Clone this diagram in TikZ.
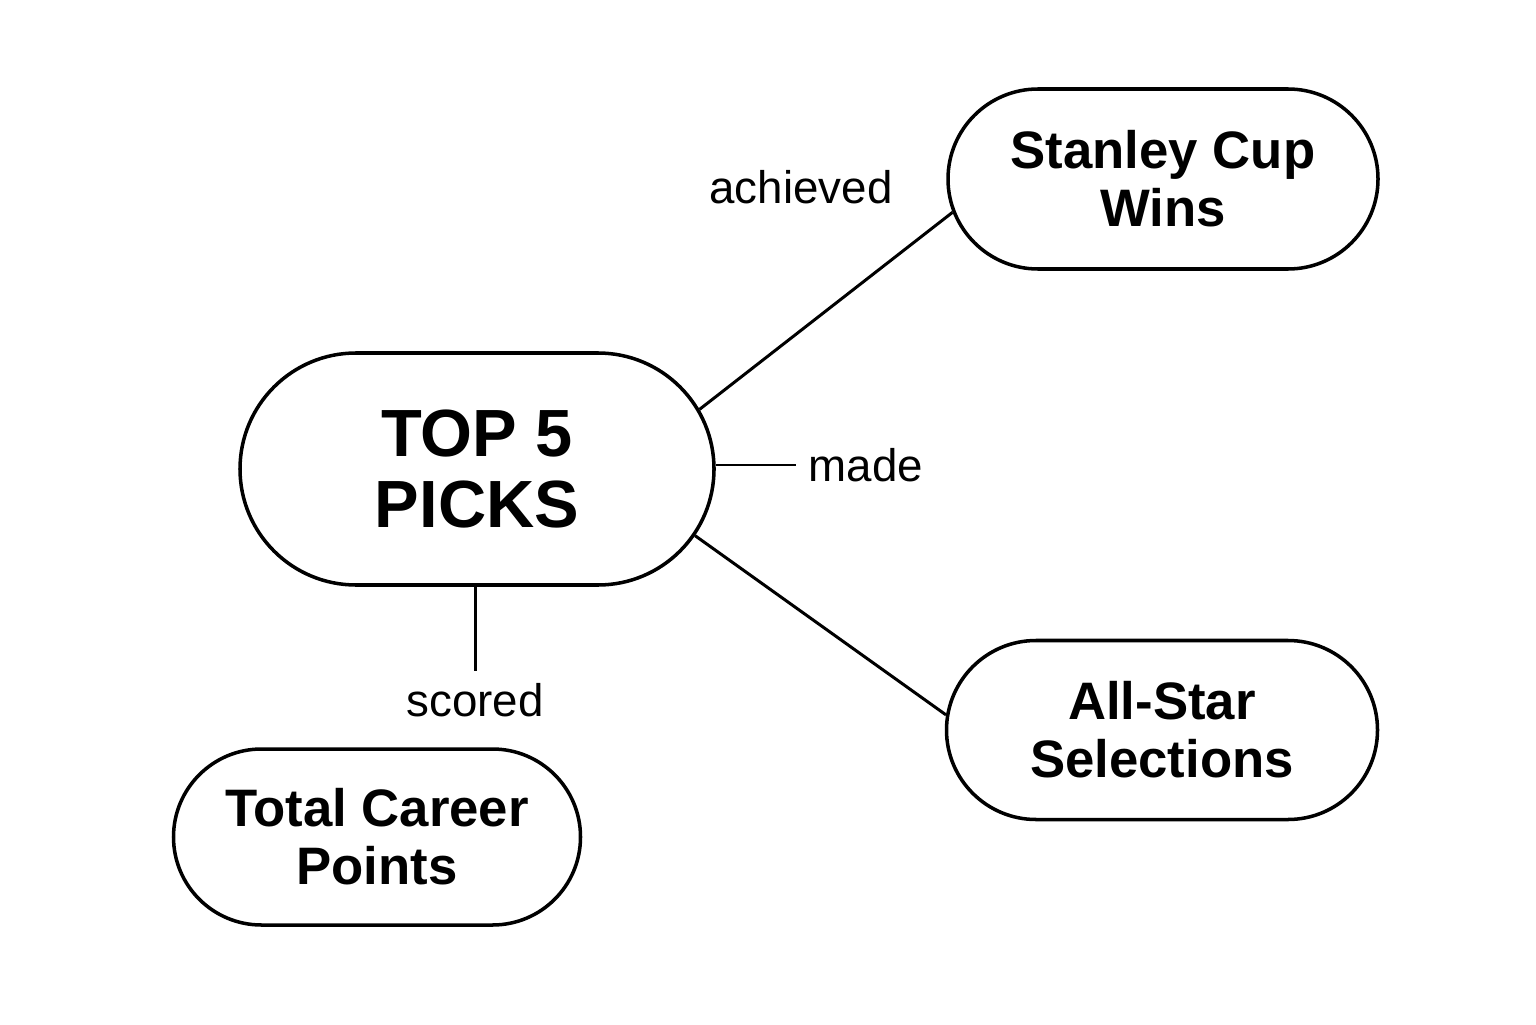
\documentclass[tikz,border=0pt]{standalone}
\usepackage{fontspec}
\setmainfont{Liberation Sans}
\usepackage{tikz}
\usetikzlibrary{positioning, shapes.misc}

\begin{document}
\begin{tikzpicture}[
  every node/.style={align=center},
  pill/.style={draw, rounded rectangle, line width=1pt, inner sep=0pt,
               font=\bfseries\fontsize{15}{16.5}\selectfont},
  link/.style={line width=0.85pt},
  tag/.style={font=\fontsize{13}{15}\selectfont}
]
  \useasboundingbox (0,0) rectangle (15.36,10.24);

  \node (top) [pill, minimum width=4.74cm, minimum height=2.32cm,
       font=\bfseries\fontsize{19}{20}\selectfont] at (4.77,5.55) {TOP 5\\PICKS};
  \node (stanley) [pill, minimum width=4.30cm, minimum height=1.80cm]
       at (11.63,8.45) {Stanley Cup\\Wins};
  \node (allstar) [pill, minimum width=4.31cm, minimum height=1.79cm]
       at (11.62,2.94) {All-Star\\Selections};
  \node (career) [pill, minimum width=4.07cm, minimum height=1.76cm]
       at (3.77,1.87) {Total Career\\Points};

  \node (achieved) [tag] at (8.01,8.37) {achieved};
  \node (made) [tag] at (8.66,5.59) {made};
  \node (scored) [tag] at (4.75,3.24) {scored};

  \draw[link] (top.15) -- (stanley.189);
  \draw[link] (top.east |- made.west) -- (made.west);
  \draw[link] (top.-17) -- (allstar.176);
  \draw[link] (top.south -| scored.north) -- (scored.north);
\end{tikzpicture}
\end{document}
